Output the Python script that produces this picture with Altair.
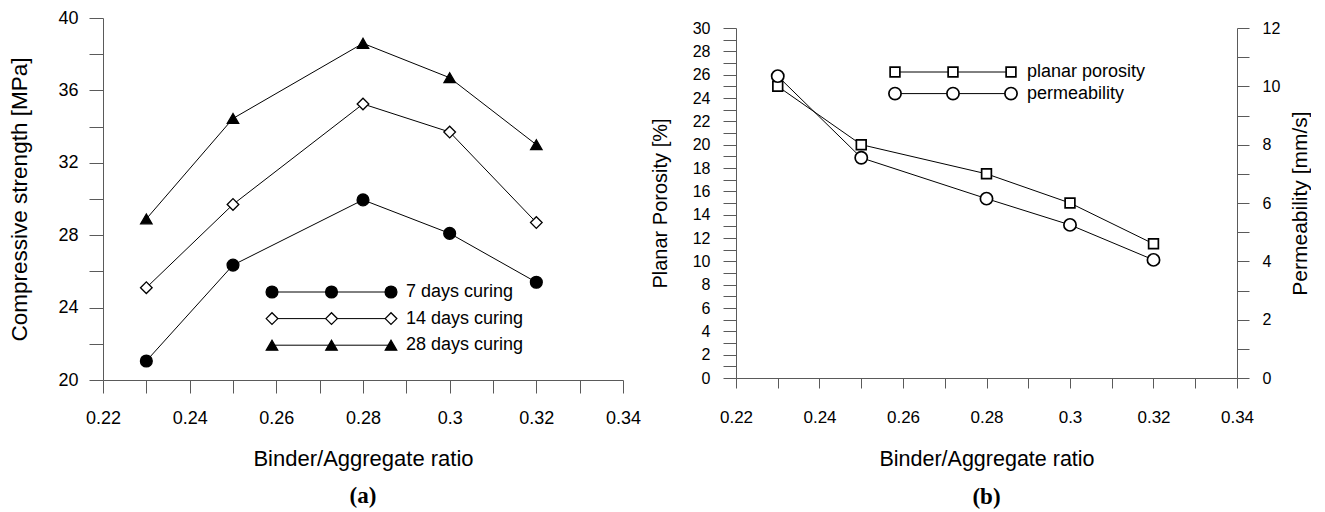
import altair as alt
import pandas as pd

# ---------------- data ----------------
ratio = [0.23, 0.25, 0.28, 0.30, 0.32]
series_a = ["7 days curing", "14 days curing", "28 days curing"]
strength_7 = [21.05, 26.35, 29.95, 28.1, 25.4]
strength_14 = [25.1, 29.7, 35.25, 33.7, 28.7]
strength_28 = [28.9, 34.45, 38.6, 36.7, 33.0]

series_b = ["planar porosity", "permeability"]
porosity = [25.0, 20.0, 17.5, 15.0, 11.5]
permeability = [10.35, 7.55, 6.15, 5.25, 4.05]

x_ticks = [0.22, 0.23, 0.24, 0.25, 0.26, 0.27, 0.28, 0.29, 0.30, 0.31, 0.32, 0.33, 0.34]
ya_ticks = [20, 22, 24, 26, 28, 30, 32, 34, 36, 38, 40]
yb_ticks = list(range(0, 31))
yb2_ticks = list(range(0, 13))

# ---------------- tables ----------------
df_a = pd.DataFrame({
    "ratio": ratio * 3,
    "strength": strength_7 + strength_14 + strength_28,
    "series": [s for s in series_a for _ in ratio],
})
df_b = pd.DataFrame({"ratio": ratio, "porosity": porosity, "permeability": permeability})

# legend layout (pixel positions inside each plot area)
LA_X0, LA_DX, LA_Y0, LA_DY, LA_TX = 169, 59.5, 274, 26.6, 303
leg_a_pts = pd.DataFrame([
    {"series": s, "lx": LA_X0 + j * LA_DX, "ly": LA_Y0 + i * LA_DY}
    for i, s in enumerate(series_a) for j in range(3)
])
leg_a_rows = pd.DataFrame([
    {"series": s, "x0": LA_X0, "x1": LA_X0 + 2 * LA_DX, "tx": LA_TX, "ly": LA_Y0 + i * LA_DY}
    for i, s in enumerate(series_a)
])

LB_X0, LB_DX, LB_Y0, LB_DY, LB_TX = 159, 58, 44, 21.6, 291
leg_b_pts = pd.DataFrame([
    {"item": s, "lx": LB_X0 + j * LB_DX, "ly": LB_Y0 + i * LB_DY}
    for i, s in enumerate(series_b) for j in range(3)
])
leg_b_rows = pd.DataFrame([
    {"item": s, "x0": LB_X0, "x1": LB_X0 + 2 * LB_DX, "tx": LB_TX, "ly": LB_Y0 + i * LB_DY}
    for i, s in enumerate(series_b)
])

# ---------------- styles ----------------
FONT = "Liberation Sans"
AXC = "#5a5a5a"
XEXPR = "round(datum.value*100) % 2 == 0 ? format(datum.value, '~g') : ''"


def axis(**kw):
    base = dict(grid=False, domainColor=AXC, tickColor=AXC, labelColor="black",
                titleColor="black", labelFont=FONT, titleFont=FONT,
                titleFontWeight="normal", labelFlush=False, labelOverlap=False)
    base.update(kw)
    return alt.Axis(**base)


xscale = alt.Scale(domain=[0.22, 0.34], nice=False, zero=False)

# ---------------- panel (a) ----------------
xa = alt.X("ratio:Q", scale=xscale,
           axis=axis(values=x_ticks, labelExpr=XEXPR, tickSize=13, labelPadding=16,
                     labelFontSize=18, title="Binder/Aggregate ratio",
                     titleFontSize=22, titlePadding=21))
ya = alt.Y("strength:Q", scale=alt.Scale(domain=[20, 40], nice=False, zero=False),
           axis=axis(values=ya_ticks, labelExpr="datum.value % 4 == 0 ? datum.label : ''",
                     tickSize=14, labelPadding=11, labelFontSize=18,
                     title="Compressive strength [MPa]", titleFontSize=22.5, titlePadding=26))

shape_a = alt.Shape("series:N", scale=alt.Scale(domain=series_a, range=["circle", "diamond", "triangle-up"]), legend=None)
fill_a = alt.Fill("series:N", scale=alt.Scale(domain=series_a, range=["black", "white", "black"]), legend=None)
size_a = alt.Size("series:N", scale=alt.Scale(domain=series_a, range=[140, 130, 190]), legend=None)

lines_a = alt.Chart(df_a).mark_line(color="black", strokeWidth=1).encode(
    x=xa, y=ya, detail="series:N")
pts_a = alt.Chart(df_a).mark_point(filled=True, stroke="black", strokeWidth=1.3, opacity=1).encode(
    x=xa, y=ya, shape=shape_a, fill=fill_a, size=size_a)

lrule_a = alt.Chart(leg_a_rows).mark_rule(color="black", strokeWidth=1).encode(
    x=alt.X("x0:Q", scale=None, axis=None), x2="x1:Q", y=alt.Y("ly:Q", scale=None, axis=None))
lpts_a = alt.Chart(leg_a_pts).mark_point(filled=True, stroke="black", strokeWidth=1.3, opacity=1).encode(
    x=alt.X("lx:Q", scale=None, axis=None), y=alt.Y("ly:Q", scale=None, axis=None),
    shape=shape_a, fill=fill_a, size=size_a)
ltext_a = alt.Chart(leg_a_rows).mark_text(align="left", baseline="middle", font=FONT,
                                          fontSize=18, color="black").encode(
    x=alt.X("tx:Q", scale=None, axis=None), y=alt.Y("ly:Q", scale=None, axis=None), text="series:N")

left = alt.layer(lines_a, pts_a, lrule_a, lpts_a, ltext_a).properties(
    width=520, height=362,
    title=alt.TitleParams("(a)", orient="bottom", anchor="middle", font="Liberation Serif",
                          fontWeight="bold", fontSize=23, color="black", offset=16))

# ---------------- panel (b) ----------------
xb = alt.X("ratio:Q", scale=xscale,
           axis=axis(values=x_ticks, labelExpr=XEXPR, tickSize=10, labelPadding=21,
                     labelFontSize=17, title="Binder/Aggregate ratio",
                     titleFontSize=21.5, titlePadding=23))
yb = alt.Y("porosity:Q", scale=alt.Scale(domain=[0, 30], nice=False, zero=False),
           axis=axis(values=yb_ticks, labelExpr="datum.value % 2 == 0 ? datum.label : ''",
                     tickSize=13, labelPadding=13, labelFontSize=16,
                     title="Planar Porosity [%]", titleFontSize=20, titlePadding=22))
yb2 = alt.Y("permeability:Q", scale=alt.Scale(domain=[0, 12], nice=False, zero=False),
            axis=axis(orient="right", values=yb2_ticks,
                      labelExpr="datum.value % 2 == 0 ? datum.label : ''",
                      tickSize=12, labelPadding=13, labelFontSize=16,
                      title="Permeability [mm/s]", titleFontSize=21, titlePadding=10,
                      titleAngle=270, titleBaseline="top"))

shape_b = alt.Shape("item:N", scale=alt.Scale(domain=series_b, range=["square", "circle"]), legend=None)
size_b = alt.Size("item:N", scale=alt.Scale(domain=series_b, range=[95, 150]), legend=None)

por_line = alt.Chart(df_b).mark_line(color="black", strokeWidth=1).encode(x=xb, y=yb)
por_pts = alt.Chart(df_b).mark_point(shape="square", filled=True, fill="white", stroke="black",
                                     strokeWidth=1.7, size=95, opacity=1).encode(x=xb, y=yb)
perm_line = alt.Chart(df_b).mark_line(color="black", strokeWidth=1).encode(x=xb, y=yb2)
perm_pts = alt.Chart(df_b).mark_point(shape="circle", filled=True, fill="white", stroke="black",
                                      strokeWidth=1.7, size=150, opacity=1).encode(x=xb, y=yb2)

lrule_b = alt.Chart(leg_b_rows).mark_rule(color="black", strokeWidth=1).encode(
    x=alt.X("x0:Q", scale=None, axis=None), x2="x1:Q", y=alt.Y("ly:Q", scale=None, axis=None))
lpts_b = alt.Chart(leg_b_pts).mark_point(filled=True, fill="white", stroke="black",
                                         strokeWidth=1.7, opacity=1).encode(
    x=alt.X("lx:Q", scale=None, axis=None), y=alt.Y("ly:Q", scale=None, axis=None),
    shape=shape_b, size=size_b)
ltext_b = alt.Chart(leg_b_rows).mark_text(align="left", baseline="middle", font=FONT,
                                          fontSize=18, color="black").encode(
    x=alt.X("tx:Q", scale=None, axis=None), y=alt.Y("ly:Q", scale=None, axis=None), text="item:N")

right = alt.layer(
    alt.layer(por_line, por_pts, lrule_b, lpts_b, ltext_b),
    alt.layer(perm_line, perm_pts),
).resolve_scale(y="independent").properties(
    width=501, height=350,
    title=alt.TitleParams("(b)", orient="bottom", anchor="middle", font="Liberation Serif",
                          fontWeight="bold", fontSize=23, color="black", offset=16))

# small blank strip that lowers panel (b) relative to panel (a)
blank = alt.Chart(pd.DataFrame({"v": [0]})).mark_text(text="").encode(
    x=alt.value(0), y=alt.value(0)).properties(width=1, height=1)
right_col = alt.vconcat(blank, right, spacing=-3)

chart = alt.hconcat(left, right_col, spacing=9).resolve_scale(
    shape="independent", fill="independent", size="independent"
).properties(
    padding={"left": 0, "top": 1, "right": 0, "bottom": 0}
).configure_view(stroke=None)

chart.save("out.html", embed_options={"renderer": "svg", "actions": False})
